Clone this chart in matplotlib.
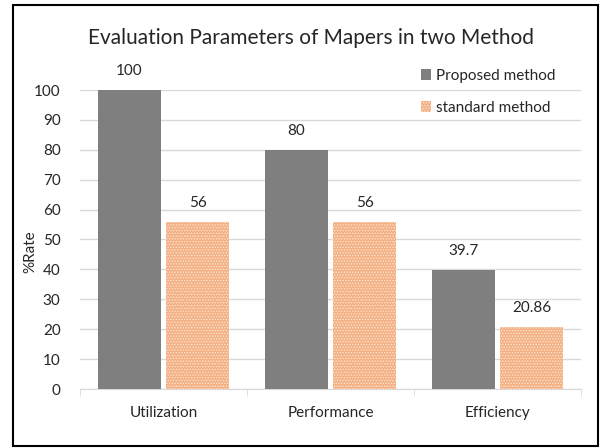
import matplotlib.pyplot as plt
import matplotlib.patches as mpatches
import numpy as np

categories = ['Utilization', 'Performance', 'Efficiency']
proposed = [100, 80, 39.7]
standard = [56, 56, 20.86]
proposed_labels = ['100', '80', '39.7']
standard_labels = ['56', '56', '20.86']

plt.rcParams['font.family'] = ['Lato', 'DejaVu Sans']
plt.rcParams['hatch.linewidth'] = 0.6

fig = plt.figure(figsize=(6.05, 4.48), dpi=100)
ax = fig.add_axes([80 / 605, 1 - 389 / 448, 501 / 605, 299 / 448])

x = np.arange(len(categories))
w = 0.38
gap = 0.015
b1 = ax.bar(x - w / 2 - gap, proposed, w, color='#7f7f7f', label='Proposed method', zorder=3)
b2 = ax.bar(x + w / 2 + gap, standard, w, facecolor='#f4b183', edgecolor='#fde9dc',
            linewidth=0, hatch='......', label='standard method', zorder=3)

for bar, txt in zip(b1, proposed_labels):
    ax.text(bar.get_x() + bar.get_width() / 2, bar.get_height() + 4, txt,
            ha='center', va='bottom', fontsize=11, color='#262626')
for bar, txt in zip(b2, standard_labels):
    ax.text(bar.get_x() + bar.get_width() / 2, bar.get_height() + 4, txt,
            ha='center', va='bottom', fontsize=11, color='#262626')

ax.set_xlim(-0.5, 2.5)
ax.set_ylim(0, 100)
ax.set_yticks(range(0, 101, 10))
ax.tick_params(axis='y', length=0, labelsize=11, pad=14, colors='#262626')
ax.set_xticks(x)
ax.set_xticklabels(categories)
ax.tick_params(axis='x', length=0, labelsize=11, pad=12, colors='#262626')
ax.set_xticks([-0.5, 0.5, 1.5, 2.5], minor=True)
ax.tick_params(axis='x', which='minor', length=5, color='#d9d9d9')
ax.grid(axis='y', color='#d9d9d9', linewidth=1, zorder=0)
for s in ['top', 'right', 'left']:
    ax.spines[s].set_visible(False)
ax.spines['bottom'].set_color('#d9d9d9')
ax.set_ylabel('%Rate', fontsize=11, color='#262626')
ax.yaxis.set_label_coords(-0.085, 0.46)

fig.text(311 / 605, 1 - 38 / 448, 'Evaluation Parameters of Mapers in two Method',
         ha='center', va='center', fontsize=15, color='#262626')

fig.legend(handles=[b1, b2], loc='upper left', bbox_to_anchor=(407 / 605, 1 - 55 / 448),
           frameon=False, fontsize=11, handlelength=0.7, handleheight=0.7,
           handletextpad=0.3, labelspacing=1.2, labelcolor='#262626')

fig.patches.append(mpatches.Rectangle((13 / 605, 1 - 446 / 448), 585 / 605, 441 / 448,
                                      transform=fig.transFigure, fill=False,
                                      edgecolor='black', linewidth=1.5))

fig.savefig('out.png', dpi=100)
